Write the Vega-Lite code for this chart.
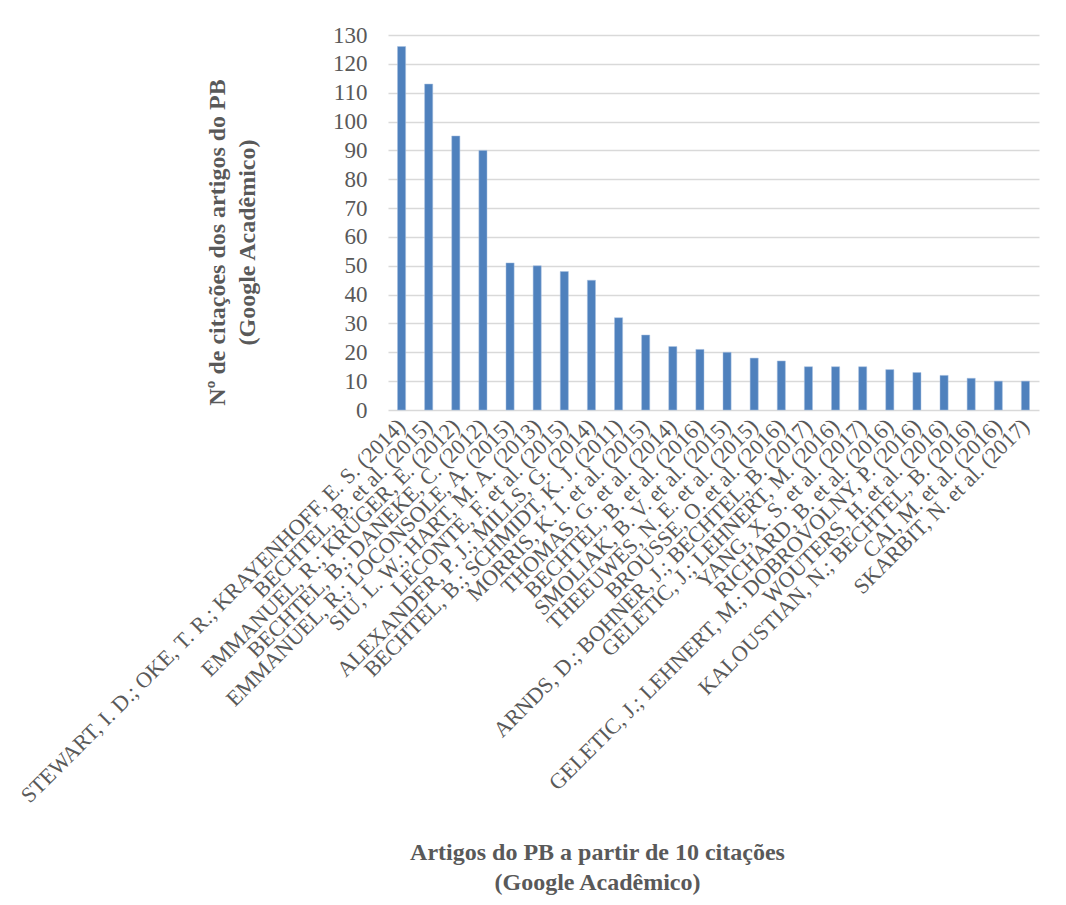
{
  "$schema": "https://vega.github.io/schema/vega-lite/v6.json",
  "width": 651,
  "height": 375,
  "autosize": {"type": "none"},
  "padding": {"left": 388, "top": 35, "right": 27, "bottom": 495},
  "background": "white",
  "config": {
    "font": "Liberation Serif",
    "view": {"stroke": null}
  },
  "data": {
    "values": [
      {"artigo": "STEWART, I. D.; OKE, T. R.; KRAYENHOFF, E. S. (2014)", "citacoes": 126},
      {"artigo": "BECHTEL, B. et al. (2015)", "citacoes": 113},
      {"artigo": "EMMANUEL, R.; KRÜGER, E. (2012)", "citacoes": 95},
      {"artigo": "BECHTEL, B.; DANEKE, C. (2012)", "citacoes": 90},
      {"artigo": "EMMANUEL, R.; LOCONSOLE, A. (2015)", "citacoes": 51},
      {"artigo": "SIU, L. W.; HART, M. A. (2013)", "citacoes": 50},
      {"artigo": "LECONTE, F. et al. (2015)", "citacoes": 48},
      {"artigo": "ALEXANDER, P. J.; MILLS, G. (2014)", "citacoes": 45},
      {"artigo": "BECHTEL, B.; SCHMIDT, K. J. (2011)", "citacoes": 32},
      {"artigo": "MORRIS, K. I. et al. (2015)", "citacoes": 26},
      {"artigo": "THOMAS, G. et al. (2014)", "citacoes": 22},
      {"artigo": "BECHTEL, B. et al. (2016)", "citacoes": 21},
      {"artigo": "SMOLIAK, B. V. et al. (2015)", "citacoes": 20},
      {"artigo": "THEEUWES, N. E. et al. (2015)", "citacoes": 18},
      {"artigo": "BROUSSE, O. et al. (2016)", "citacoes": 17},
      {"artigo": "ARNDS, D.; BOHNER, J.; BECHTEL, B. (2017)", "citacoes": 15},
      {"artigo": "GELETIC, J.; LEHNERT, M. (2016)", "citacoes": 15},
      {"artigo": "YANG, X. S. et al. (2017)", "citacoes": 15},
      {"artigo": "RICHARD, B. et al. (2016)", "citacoes": 14},
      {"artigo": "GELETIC, J.; LEHNERT, M.; DOBROVOLNY, P. (2016)", "citacoes": 13},
      {"artigo": "WOUTERS, H. et al. (2016)", "citacoes": 12},
      {"artigo": "KALOUSTIAN, N.; BECHTEL, B. (2016)", "citacoes": 11},
      {"artigo": "CAI, M. et al. (2016)", "citacoes": 10},
      {"artigo": "SKARBIT, N. et al. (2017)", "citacoes": 10}
    ]
  },
  "mark": {"type": "bar", "color": "#4f81bd", "stroke": "#a9c0e0", "strokeWidth": 0.5},
  "encoding": {
    "x": {
      "field": "artigo",
      "type": "nominal",
      "sort": null,
      "scale": {"paddingInner": 0.7, "paddingOuter": 0.35},
      "axis": {
        "title": ["Artigos do PB a partir de 10 citações", "(Google Acadêmico)"],
        "titleFont": "Liberation Serif",
        "titleFontSize": 24,
        "titleFontWeight": "bold",
        "titleColor": "#595959",
        "titleLineHeight": 30,
        "titleAnchor": "start",
        "titleAlign": "center",
        "titleBaseline": "top",
        "titleX": 209,
        "titleY": 430,
        "labelAngle": -45,
        "labelAlign": "right",
        "labelBaseline": "middle",
        "labelFont": "Liberation Serif",
        "labelFontSize": 22,
        "labelColor": "#595959",
        "labelLimit": 0,
        "labelPadding": 12,
        "labelOverlap": false,
        "ticks": false,
        "domain": false,
        "grid": false
      }
    },
    "y": {
      "field": "citacoes",
      "type": "quantitative",
      "scale": {"domain": [0, 130], "nice": false},
      "axis": {
        "values": [0, 10, 20, 30, 40, 50, 60, 70, 80, 90, 100, 110, 120, 130],
        "title": ["Nº de citações dos artigos do PB", "(Google Acadêmico)"],
        "titleFont": "Liberation Serif",
        "titleFontSize": 24,
        "titleFontWeight": "bold",
        "titleColor": "#595959",
        "titleLineHeight": 30,
        "titleAngle": -90,
        "titleAlign": "center",
        "titleBaseline": "middle",
        "titleX": -171,
        "titleY": 207,
        "labelFont": "Liberation Serif",
        "labelFontSize": 23,
        "labelColor": "#595959",
        "labelPadding": 21,
        "ticks": false,
        "domain": false,
        "grid": true,
        "gridColor": "#d9d9d9",
        "gridWidth": 1.5
      }
    }
  }
}
